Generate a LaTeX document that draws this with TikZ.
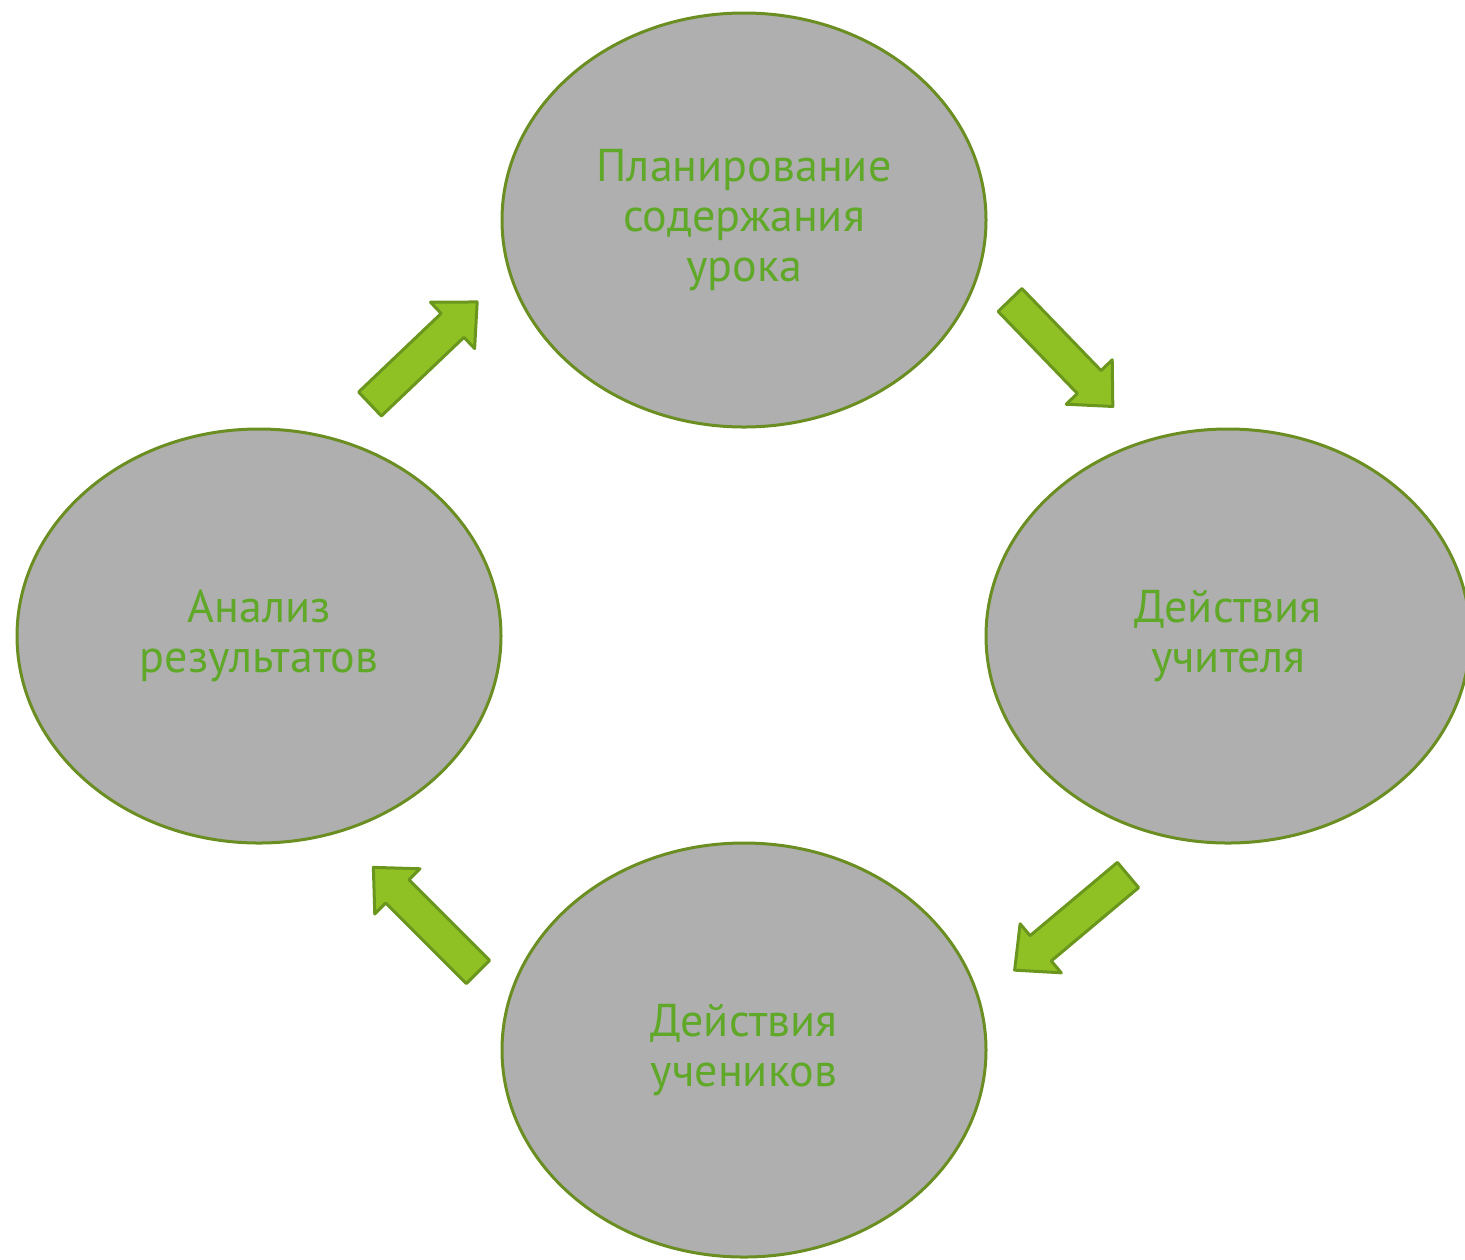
\documentclass[tikz,border=0pt]{standalone}
\usepackage{fontspec}
\setmainfont{PT Sans}
\usetikzlibrary{shapes.geometric}
\definecolor{txtgreen}{HTML}{5FA828}
\definecolor{edgegreen}{HTML}{6B8E23}
\definecolor{arrowfill}{HTML}{8FC024}
\definecolor{arrowedge}{HTML}{6B961E}
\definecolor{ovalgray}{HTML}{AFAFAF}
\tikzset{
  oval/.style={ellipse, draw=edgegreen, fill=ovalgray, line width=1.5pt,
    minimum width=242pt, minimum height=207pt, inner sep=0pt,
    align=center, text=txtgreen, font=\fontsize{23}{25}\selectfont},
  blockarrow/.pic={
    \draw[fill=arrowfill, draw=arrowedge, line width=1.5pt, line join=round]
      (0,-16.5) -- (114,-16.5) -- (114,-32) -- (148,0) -- (114,32)
      -- (114,16.5) -- (0,16.5) -- cycle;
  }
}
\begin{document}
\begin{tikzpicture}[x=0.5pt, y=-0.5pt]
\useasboundingbox (0,0) rectangle (1465,1259);
\node[oval] (plan) at (744,220) {Планирование\\содержания\\урока};
\node[oval] (teacher) at (1228,636) {Действия\\учителя};
\node[oval] (students) at (744,1050) {Действия\\учеников};
\node[oval] (analysis) at (259,636) {Анализ\\результатов};
\pic[rotate=-46] at (1010,300) {blockarrow};
\pic[rotate=-140] at (1128,875) {blockarrow};
\pic[rotate=135] at (478,972) {blockarrow};
\pic[rotate=43.6] at (370,404) {blockarrow};
\end{tikzpicture}
\end{document}
